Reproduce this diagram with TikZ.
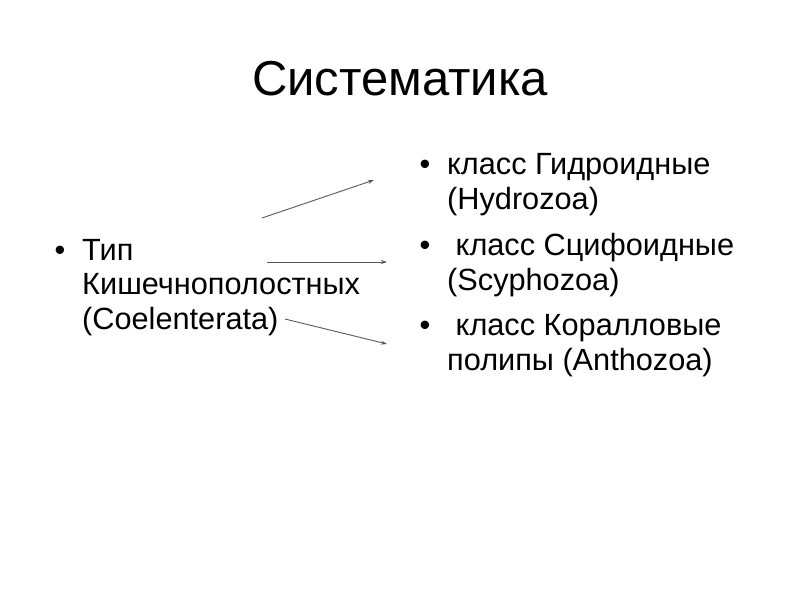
\documentclass[tikz,border=0pt]{standalone}
\usepackage{fontspec}
\setmainfont{Liberation Sans}
\usetikzlibrary{arrows.meta}
\tikzset{
	slidetitle/.style={font=\fontsize{49}{60}\selectfont, inner sep=0pt, anchor=base},
	itemtext/.style={font=\fontsize{30.7}{34.5}\selectfont, inner sep=0pt, anchor=base west, align=left},
	dot/.style={font=\fontsize{30.7}{34.5}\selectfont, inner sep=0pt, anchor=base},
	pointer/.style={line width=0.9pt, color=black!65, -{Stealth[length=6pt,width=4pt]}}
}

\begin{document}
\begin{tikzpicture}[x=1pt, y=-1pt]
		%%%%% START %%%%%
		\useasboundingbox[fill=white] (0, 0) rectangle (800, 600);
		
		\node[slidetitle] (title) at (400, 95) {Систематика};
		
		% left item (anchored at the last line)
		\node[dot] (bulletL) at (60, 260) {•};
		\node[itemtext] (phylum) at (82, 329) {Тип\\Кишечнополостных\\(Coelenterata)};
		
		% right items
		\node[dot] (bulletA) at (425, 174) {•};
		\node[itemtext] (hydro) at (447, 209) {класс Гидроидные\\(Hydrozoa)};
		\node[dot] (bulletB) at (425, 255) {•};
		\node[itemtext] (scypho) at (447, 290) {\ класс Сцифоидные\\(Scyphozoa)};
		\node[dot] (bulletC) at (425, 335) {•};
		\node[itemtext] (antho) at (447, 370) {\ класс Коралловые\\полипы (Anthozoa)};
		
		% arrows
		\coordinate (fromA) at (262, 218);
		\coordinate (toA) at (374, 180);
		\coordinate (fromB) at (267, 262);
		\coordinate (toB) at (387, 262);
		\coordinate (fromC) at (285, 319);
		\coordinate (toC) at (387, 344);
		\draw[pointer] (fromA) -- (toA);
		\draw[pointer] (fromB) -- (toB);
		\draw[pointer] (fromC) -- (toC);
		
		%%%%% END %%%%%
\end{tikzpicture}
\end{document}
